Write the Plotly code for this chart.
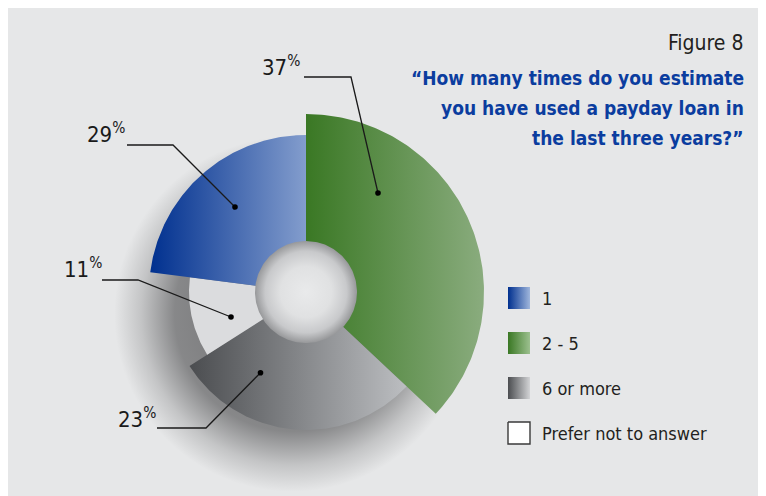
import numpy as np
import plotly.graph_objects as go

# ---------------- data ----------------
categories = ["1", "2 - 5", "6 or more", "Prefer not to answer"]
label_pct = [29, 37, 23, 11]            # percentages printed on the chart
wedge_share = [23, 37, 29, 11]          # angular share of each wedge as drawn (%)
clockwise_order = ["2 - 5", "6 or more", "Prefer not to answer", "1"]  # from 12 o'clock
title_text = "Figure 8"
question_lines = ["“How many times do you estimate",
                  "you have used a payday loan in",
                  "the last three years?”"]

# ---------------- style ----------------
W, H = 766, 496
OFF = 8                      # page body margin: axes use page pixel coordinates
CX, CY = 306, 292
HOLE_R = 51
outer_r = {"1": 157, "2 - 5": 178, "6 or more": 138, "Prefer not to answer": 117}
grad = {
    "1": ("#00308f", "#839dcd"),
    "2 - 5": ("#3a7824", "#8aac7e"),
    "6 or more": ("#4b4d50", "#bcbec1"),
    "Prefer not to answer": ("#dbdcde", "#dbdcde"),
}
legend_grad_end = {"1": "#9fb6dc", "2 - 5": "#9cc08f", "6 or more": "#d3d4d6"}
COND = "Liberation Sans Narrow, DejaVu Sans Condensed, Roboto Condensed, Arial Narrow, Roboto, sans-serif"
BG = "#e6e7e8"

fig = go.Figure()


def ring_sector(a0, a1, r0, r1, n=160):
    t = np.radians(np.linspace(a0, a1, n))
    xo, yo = CX + r1 * np.sin(t), CY - r1 * np.cos(t)
    xi, yi = CX + r0 * np.sin(t[::-1]), CY - r0 * np.cos(t[::-1])
    return np.r_[xo, xi, xo[:1]], np.r_[yo, yi, yo[:1]]


# soft drop shadow beneath the chart
sx, sy = ring_sector(0, 360, 0, 178, 240)
sx = sx - 14
sy = sy + 22
fig.add_trace(go.Scatter(
    x=sx, y=sy, mode="lines", line=dict(width=0), fill="toself",
    fillgradient=dict(type="radial", colorscale=[
        [0, "rgba(40,40,42,0.65)"], [0.66, "rgba(40,40,42,0.5)"],
        [0.85, "rgba(40,40,42,0.18)"], [1, "rgba(40,40,42,0)"]]),
    hoverinfo="skip"))

# wedges
share_of = dict(zip(categories, wedge_share))
start = 0.0
for cat in clockwise_order:
    span = share_of[cat] / 100 * 360
    x, y = ring_sector(start, start + span, HOLE_R - 1, outer_r[cat])
    c0, c1 = grad[cat]
    fig.add_trace(go.Scatter(
        x=x, y=y, mode="lines", line=dict(width=0), fill="toself",
        fillgradient=dict(type="horizontal", colorscale=[[0, c0], [1, c1]]),
        name=cat, hoverinfo="name"))
    start += span

# hole with inner shading
hx, hy = ring_sector(0, 360, 0, HOLE_R, 200)
fig.add_trace(go.Scatter(
    x=hx, y=hy, mode="lines", line=dict(width=0), fill="toself",
    fillgradient=dict(type="radial", colorscale=[
        [0, "#e9eaeb"], [0.5, "#e0e1e2"], [0.8, "#c8c9cb"], [1, "#97989a"]]),
    hoverinfo="skip"))

# legend swatches (gradient squares) and labels
LEG_X, LEG_Y, LEG_S, LEG_DY = 508, 287, 22, 45
for i, cat in enumerate(categories):
    y0 = LEG_Y + i * LEG_DY
    bx = [LEG_X, LEG_X + LEG_S, LEG_X + LEG_S, LEG_X, LEG_X]
    by = [y0, y0, y0 + LEG_S, y0 + LEG_S, y0]
    if cat == "Prefer not to answer":
        fig.add_trace(go.Scatter(x=bx, y=by, mode="lines", fill="toself",
                                 fillcolor="#ffffff", line=dict(color="#3a3a3a", width=1.4),
                                 hoverinfo="skip"))
    else:
        fig.add_trace(go.Scatter(x=bx, y=by, mode="lines", line=dict(width=0), fill="toself",
                                 fillgradient=dict(type="horizontal",
                                                   colorscale=[[0, grad[cat][0]], [1, legend_grad_end[cat]]]),
                                 hoverinfo="skip"))
    fig.add_annotation(x=LEG_X + 32, y=y0 + LEG_S / 2, text=cat, showarrow=False,
                       xanchor="left", yanchor="middle",
                       font=dict(family=COND, size=18, color="#231f20"))

# percentage labels with leader lines
pct_of = dict(zip(categories, label_pct))
leaders = {  # text right edge / center y, elbow line, dot
    "2 - 5": dict(tx=302, ty=66, line=[(304, 77), (351, 77), (378, 193)]),
    "1": dict(tx=127, ty=133, line=[(127, 145), (173, 145), (235, 207)]),
    "Prefer not to answer": dict(tx=104, ty=268, line=[(102, 280), (138, 280), (231, 317)]),
    "6 or more": dict(tx=158, ty=418, line=[(157, 428), (206, 428), (260.5, 372.7)]),
}
for cat, L in leaders.items():
    fig.add_annotation(x=L["tx"], y=L["ty"], text=f"{pct_of[cat]}<sup>%</sup>",
                       showarrow=False, xanchor="right", yanchor="middle",
                       font=dict(family=COND, size=22, color="#1a1a1a"))
    pts = L["line"]
    path = "M " + " L ".join(f"{px},{py}" for px, py in pts)
    fig.add_shape(type="path", path=path, xref="x", yref="y",
                  line=dict(color="#1a1a1a", width=1.3))
    dx, dy = pts[-1]
    fig.add_shape(type="circle", xref="x", yref="y", x0=dx - 2.8, x1=dx + 2.8,
                  y0=dy - 2.8, y1=dy + 2.8, fillcolor="#000000", line=dict(width=0))

# titles
fig.add_annotation(x=746, y=43, text=title_text, showarrow=False, xanchor="right",
                   yanchor="middle", font=dict(family=COND, size=21, color="#231f20"))
for k, line in enumerate(question_lines):
    fig.add_annotation(x=746, y=78 + 30 * k, text=line, showarrow=False, xanchor="right",
                       yanchor="middle", align="right",
                       font=dict(family=COND, size=19, color="#0b3d9f", weight="bold"))

fig.update_layout(
    width=W, height=H, margin=dict(l=0, r=0, t=0, b=0),
    paper_bgcolor=BG, plot_bgcolor=BG, showlegend=False,
    xaxis=dict(range=[OFF, OFF + W], visible=False, fixedrange=True),
    yaxis=dict(range=[OFF + H, OFF], visible=False, fixedrange=True),
)
fig.write_html("out.html")
